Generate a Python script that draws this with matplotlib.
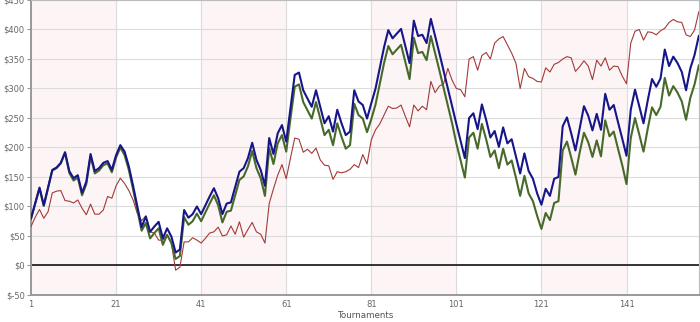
import matplotlib
matplotlib.use("Agg")
import matplotlib.pyplot as plt

# cumulative winnings per tournament
blue = [80, 106, 132, 102, 132, 162, 166, 174, 192, 160,
        148, 153, 123, 142, 189, 160, 165, 174, 177, 162,
        187, 204, 193, 168, 135, 100, 65, 83, 57, 66,
        74, 46, 63, 49, 22, 27, 94, 81, 87, 100,
        87, 102, 117, 131, 114, 87, 105, 107, 133, 159,
        165, 182, 208, 179, 162, 135, 216, 189, 224, 238,
        210, 266, 323, 327, 297, 283, 269, 297, 269, 241,
        253, 227, 264, 241, 221, 227, 297, 278, 272, 249,
        275, 300, 335, 370, 399, 385, 393, 401, 372, 343,
        415, 389, 391, 377, 418, 389, 360, 330, 300, 270,
        240, 211, 182, 250, 258, 231, 273, 247, 217, 228,
        201, 234, 207, 214, 185, 156, 190, 160, 147, 122,
        103, 130, 118, 147, 150, 236, 251, 224, 195, 233,
        270, 254, 229, 257, 230, 291, 264, 272, 243, 215,
        186, 264, 298, 270, 241, 280, 316, 303, 317, 366,
        338, 354, 343, 328, 297, 334, 357, 389]

green = [79, 105, 131, 101, 131, 161, 165, 173, 191, 157,
         144, 149, 119, 138, 185, 156, 161, 170, 173, 158,
         183, 200, 187, 162, 129, 94, 59, 72, 46, 55,
         63, 35, 52, 38, 11, 16, 82, 69, 75, 88,
         75, 90, 105, 119, 102, 73, 91, 93, 119, 145,
         151, 168, 194, 165, 148, 118, 199, 172, 207, 221,
         193, 249, 303, 307, 277, 263, 249, 277, 249, 221,
         230, 204, 241, 218, 198, 204, 274, 255, 249, 226,
         248, 273, 308, 343, 372, 358, 366, 374, 345, 316,
         386, 360, 362, 348, 389, 360, 331, 301, 271, 241,
         207, 178, 149, 217, 225, 198, 240, 214, 184, 195,
         165, 198, 171, 178, 149, 118, 152, 122, 109, 84,
         62, 89, 77, 106, 109, 195, 210, 183, 154, 192,
         225, 209, 184, 212, 185, 246, 219, 227, 198, 170,
         138, 216, 250, 222, 193, 232, 268, 255, 269, 318,
         288, 304, 293, 278, 247, 284, 307, 339]

red = [66, 82, 95, 80, 91, 123, 126, 127, 110, 109,
       106, 111, 97, 86, 104, 87, 87, 94, 117, 114,
       135, 148, 139, 127, 111, 88, 76, 84, 57, 55,
       43, 43, 52, 38, -8, -3, 40, 40, 47, 43,
       38, 46, 55, 57, 65, 50, 52, 67, 53, 74,
       48, 61, 73, 57, 53, 38, 105, 130, 153, 171,
       147, 182, 216, 214, 192, 197, 190, 199, 179, 170,
       169, 146, 159, 157, 159, 163, 171, 166, 188, 172,
       213, 230, 240, 255, 270, 266, 267, 272, 253, 235,
       272, 262, 270, 264, 312, 293, 304, 308, 334, 314,
       300, 298, 286, 350, 354, 331, 356, 361, 350, 377,
       384, 388, 374, 360, 343, 300, 334, 320, 317, 312,
       311, 335, 328, 341, 344, 350, 354, 352, 329, 337,
       347, 338, 315, 348, 338, 352, 331, 338, 337, 321,
       308, 377, 397, 400, 382, 396, 395, 391, 398, 402,
       412, 417, 413, 412, 391, 388, 399, 430]

x_ticks = [1, 21, 41, 61, 81, 101, 121, 141]
y_ticks = [-50, 0, 50, 100, 150, 200, 250, 300, 350, 400, 450]
bands = [(1, 21), (41, 61), (81, 101), (121, 141)]


def main():
    tournaments = list(range(1, len(blue) + 1))

    fig = plt.figure(figsize=(7, 3.22), dpi=100)
    ax = fig.add_axes([0.0443, 0.0839, 0.954, 0.9161])

    for start, end in bands:
        ax.axvspan(start, end, color='#fdf5f5', zorder=0)

    ax.set_xticks(x_ticks)
    ax.set_yticks(y_ticks)
    ax.set_yticklabels([f"${v}" for v in y_ticks])
    ax.grid(True, color='#dcdcdc', linewidth=0.8, zorder=1)
    ax.set_axisbelow(True)

    ax.axhline(0, color='#333333', linewidth=1.4, zorder=2)

    ax.plot(tournaments, red, color='#a33a3a', linewidth=0.8, zorder=3)
    ax.plot(tournaments, green, color='#476a2a', linewidth=1.5, zorder=4)
    ax.plot(tournaments, blue, color='#16168a', linewidth=1.5, zorder=5)

    ax.set_xlim(1, len(blue))
    ax.set_ylim(-50, 450)

    for side in ['top', 'right']:
        ax.spines[side].set_color('#bbbbbb')
        ax.spines[side].set_linewidth(0.8)
    for side in ['left', 'bottom']:
        ax.spines[side].set_color('#999999')
        ax.spines[side].set_linewidth(1.4)

    ax.tick_params(axis='y', length=3, width=0.8, color='#999999',
                   labelsize=6, labelcolor='#666666', pad=1.5)
    ax.tick_params(axis='x', length=0, labelsize=6, labelcolor='#666666', pad=3.5)
    ax.set_xlabel("Tournaments", fontsize=6.3, color='#555555', labelpad=1.5)

    fig.savefig('out.png', dpi=100)


if __name__ == '__main__':
    main()
